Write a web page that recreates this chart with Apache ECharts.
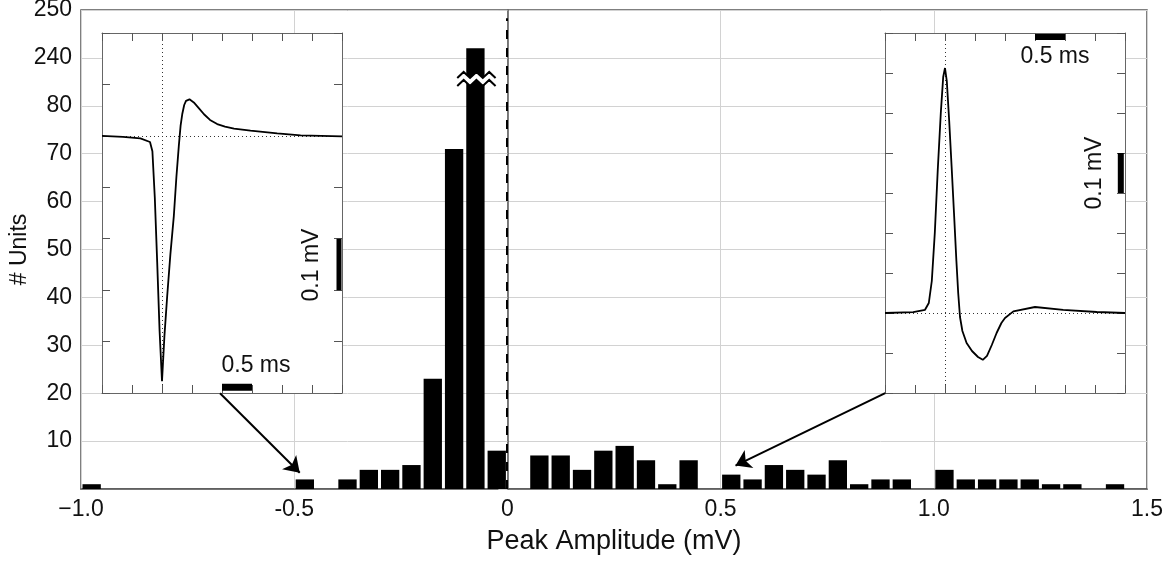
<!DOCTYPE html>
<html>
<head>
<meta charset="utf-8">
<script src="https://cdn.jsdelivr.net/npm/echarts@6/dist/echarts.min.js"></script>
<style>
html,body{margin:0;padding:0;background:#fff;}
#chart{width:1171px;height:564px;}
</style>
</head>
<body>
<div id="chart"></div>
<script>
// ---------------- DATA ----------------
const binCenters = [-0.975,-0.925,-0.875,-0.825,-0.775,-0.725,-0.675,-0.625,-0.575,-0.525,
  -0.475,-0.425,-0.375,-0.325,-0.275,-0.225,-0.175,-0.125,-0.075,-0.025,
  0.025,0.075,0.125,0.175,0.225,0.275,0.325,0.375,0.425,0.475,
  0.525,0.575,0.625,0.675,0.725,0.775,0.825,0.875,0.925,0.975,
  1.025,1.075,1.125,1.175,1.225,1.275,1.325,1.375,1.425,1.475];
const unitCounts = [1,0,0,0,0,0,0,0,0,0,
  2,0,2,4,4,5,23,71,242,8,
  0,7,7,4,8,9,6,1,6,0,
  3,2,5,4,3,6,1,2,2,0,
  4,2,2,2,2,1,1,0,1,0];
const xTickLabels = ['\u22121.0','-0.5','0','0.5','1.0','1.5'];
const yTickLabels = ['','10','20','30','40','50','60','70','80','240','250'];

// Inset waveforms (time in ms, amplitude in mV)
const leftSpikeTime = [0,0.35,0.64,0.80,0.84,0.88,0.92,0.96,1.0,1.04,1.087,1.14,1.197,1.24,1.28,1.31,1.337,1.37,1.40,1.458,1.53,1.62,1.70,1.80,1.92,2.05,2.2,2.475,2.92,3.31,4.0];
const leftSpikeMv   = [0,-0.002,-0.005,-0.012,-0.03,-0.12,-0.246,-0.38,-0.477,-0.39,-0.311,-0.23,-0.156,-0.08,-0.02,0.02,0.042,0.06,0.068,0.071,0.065,0.053,0.042,0.031,0.023,0.018,0.014,0.010,0.005,0.001,-0.001];
const rightSpikeTime = [0,0.47,0.667,0.73,0.78,0.83,0.88,0.93,0.97,1.0,1.03,1.07,1.11,1.15,1.19,1.22,1.25,1.29,1.36,1.45,1.55,1.63,1.70,1.78,1.86,1.94,2.0,2.14,2.5,2.97,3.53,4.0];
const rightSpikeMv   = [0,0.002,0.008,0.025,0.08,0.2,0.36,0.5,0.59,0.6125,0.58,0.48,0.367,0.25,0.13,0.05,-0.01,-0.045,-0.075,-0.095,-0.11,-0.117,-0.107,-0.08,-0.05,-0.025,-0.0125,0.004,0.015,0.008,0.0025,0];

// Axis break: counts above BREAK_LOW are shifted down by BREAK_SHIFT on the drawn axis
const BREAK_LOW = 80, BREAK_SHIFT = 150, BREAK_MARK = 85.6;
const BIN_WIDTH = 0.05;

// ---------------- BUILD ----------------
const FONT = "'Liberation Sans', Arial, Helvetica, sans-serif";
const toDisplay = v => v > BREAK_LOW ? v - BREAK_SHIFT : v;
const barData = [];
binCenters.forEach((c, i) => { if (unitCounts[i] > 0) barData.push([c, toDisplay(unitCounts[i]), unitCounts[i]]); });
const zip = (a, b) => a.map((t, i) => [t, b[i]]);

function renderBar(params, api) {
  const x = api.value(0), disp = api.value(1), raw = api.value(2);
  const p0 = api.coord([x - BIN_WIDTH / 2, 0]);
  const p1 = api.coord([x + BIN_WIDTH / 2, disp]);
  const gap = 3;
  const r = { x: p0[0] + gap / 2, y: p1[1], width: p1[0] - p0[0] - gap, height: p0[1] - p1[1] };
  const children = [{ type: 'rect', shape: r, style: { fill: '#000' } }];
  if (raw > BREAK_LOW) {
    const cy = api.coord([x, BREAK_MARK])[1];
    const xl = r.x - 9, xr = r.x + r.width + 11;
    const n = 6, step = (xr - xl) / n;
    const top = [], bot = [];
    for (let i = 0; i <= n; i++) {
      const px = xl + i * step, dy = (i % 2 ? -3 : 3);
      top.push([px, cy - 4 + dy]); bot.push([px, cy + 4 + dy]);
    }
    children.push({ type: 'polygon', shape: { points: top.concat(bot.slice().reverse()) }, style: { fill: '#fff' } });
    children.push({ type: 'polyline', shape: { points: top }, style: { stroke: '#000', lineWidth: 2, fill: null } });
    children.push({ type: 'polyline', shape: { points: bot }, style: { stroke: '#000', lineWidth: 2, fill: null } });
  }
  return { type: 'group', children };
}

function insetAxes(gridIndex, min, max, interval, dim) {
  const common = {
    gridIndex, type: 'value', min, max, interval, z: 6,
    axisLine: { show: true, onZero: false, lineStyle: { color: '#666', width: 1 } },
    axisTick: { show: true, inside: true, length: 8, lineStyle: { color: '#555', width: 1 } },
    axisLabel: { show: false }, splitLine: { show: false }
  };
  if (dim === 'x') return [Object.assign({ position: 'bottom' }, common), Object.assign({ position: 'top' }, common)];
  return [Object.assign({ position: 'left' }, common), Object.assign({ position: 'right' }, common)];
}

const ax1 = insetAxes(1, 0, 4, 0.5, 'x'), ay1 = insetAxes(1, -0.5, 0.2, 0.1, 'y');
const ax2 = insetAxes(2, 0, 4, 0.5, 'x'), ay2 = insetAxes(2, -0.2, 0.7, 0.1, 'y');

const guideLine = { type: [1, 3], color: '#333', width: 1 };
const txt = { fontFamily: FONT, fontSize: 23, fill: '#111' };

const option = {
  animation: false,
  backgroundColor: '#fff',
  grid: [
    { left: 81, top: 10, right: 24, bottom: 75, containLabel: false, outerBoundsMode: 'none',
      show: true, borderColor: '#555', borderWidth: 1.5, backgroundColor: 'transparent', z: 0 },
    { left: 102, top: 33, width: 240, height: 360, containLabel: false, outerBoundsMode: 'none',
      show: true, backgroundColor: '#fff', borderWidth: 0, z: 5 },
    { left: 885, top: 33, width: 240, height: 360, containLabel: false, outerBoundsMode: 'none',
      show: true, backgroundColor: '#fff', borderWidth: 0, z: 5 }
  ],
  xAxis: [
    {
      gridIndex: 0, type: 'value', min: -1, max: 1.5, interval: 0.5,
      name: 'Peak Amplitude (mV)', nameLocation: 'middle', nameGap: 39,
      nameTextStyle: { fontFamily: FONT, fontSize: 27, color: '#111' },
      axisLine: { show: true, onZero: false, lineStyle: { color: '#555', width: 1.5 } },
      axisTick: { show: false },
      axisLabel: { margin: 9, fontFamily: FONT, fontSize: 23, color: '#111',
        formatter: v => xTickLabels[Math.round((v + 1) / 0.5)] },
      splitLine: { show: true, lineStyle: { color: '#d2d2d2', width: 1 } }
    },
    ax1[0], ax1[1], ax2[0], ax2[1]
  ],
  yAxis: [
    {
      gridIndex: 0, type: 'value', min: 0, max: 100, interval: 10,
      name: '# Units', nameLocation: 'middle', nameGap: 50, nameMoveOverlap: false,
      nameTextStyle: { fontFamily: FONT, fontSize: 23, color: '#111' },
      axisLine: { show: true, lineStyle: { color: '#555', width: 1.5 } },
      axisTick: { show: true, length: 9, lineStyle: { color: '#cfcfcf', width: 1 } },
      axisLabel: { margin: 9, fontFamily: FONT, fontSize: 23, color: '#111',
        formatter: v => yTickLabels[Math.round(v / 10)] },
      splitLine: { show: true, lineStyle: { color: '#d2d2d2', width: 1 } }
    },
    ay1[0], ay1[1], ay2[0], ay2[1]
  ],
  series: [
    {
      type: 'custom', name: 'units', xAxisIndex: 0, yAxisIndex: 0, z: 2,
      renderItem: renderBar, encode: { x: 0, y: 1 }, data: barData
    },
    {
      type: 'lines', coordinateSystem: 'cartesian2d', xAxisIndex: 0, yAxisIndex: 0, z: 3,
      symbol: 'none', lineStyle: { color: '#000', width: 2, type: [9, 9], opacity: 1 },
      data: [{ coords: [[-0.002, 0], [-0.002, 98.3]] }]
    },
    {
      type: 'lines', coordinateSystem: 'cartesian2d', xAxisIndex: 0, yAxisIndex: 0, z: 9,
      symbol: ['none', 'arrow'], symbolSize: [11, 15],
      lineStyle: { color: '#000', width: 2, opacity: 1 }, itemStyle: { color: '#000' },
      data: [
        { coords: [[-0.674, 20], [-0.487, 3.4]] },
        { coords: [[0.886, 20], [0.535, 4.9]] }
      ]
    },
    {
      type: 'line', xAxisIndex: 1, yAxisIndex: 1, z: 7, symbol: 'none',
      lineStyle: { color: '#000', width: 1.8 },
      data: zip(leftSpikeTime, leftSpikeMv),
      markLine: { silent: true, symbol: ['none', 'none'], label: { show: false }, lineStyle: guideLine,
        data: [{ yAxis: 0 }, { xAxis: 1.0 }] }
    },
    {
      type: 'line', xAxisIndex: 1, yAxisIndex: 1, z: 7, symbol: 'none',
      lineStyle: { color: '#000', width: 7, cap: 'butt' },
      data: [[2.0, -0.489], [2.5, -0.489]]
    },
    {
      type: 'line', xAxisIndex: 1, yAxisIndex: 1, z: 7, symbol: 'none',
      lineStyle: { color: '#000', width: 5, cap: 'butt' },
      data: [[3.95, -0.2], [3.95, -0.3]]
    },
    {
      type: 'line', xAxisIndex: 3, yAxisIndex: 3, z: 7, symbol: 'none',
      lineStyle: { color: '#000', width: 1.8 },
      data: zip(rightSpikeTime, rightSpikeMv),
      markLine: { silent: true, symbol: ['none', 'none'], label: { show: false }, lineStyle: guideLine,
        data: [{ yAxis: 0 }, { xAxis: 1.0 }] }
    },
    {
      type: 'line', xAxisIndex: 3, yAxisIndex: 3, z: 7, symbol: 'none',
      lineStyle: { color: '#000', width: 6, cap: 'butt' },
      data: [[2.5, 0.69], [3.0, 0.69]]
    },
    {
      type: 'line', xAxisIndex: 3, yAxisIndex: 3, z: 7, symbol: 'none',
      lineStyle: { color: '#000', width: 6, cap: 'butt' },
      data: [[3.93, 0.3], [3.93, 0.4]]
    }
  ],
  graphic: [
    { type: 'text', x: 256, y: 366, z: 10, style: Object.assign({ text: '0.5 ms', textAlign: 'center', textVerticalAlign: 'middle' }, txt) },
    { type: 'text', x: 312, y: 265, z: 10, rotation: Math.PI / 2, style: Object.assign({ text: '0.1 mV', textAlign: 'center', textVerticalAlign: 'middle' }, txt) },
    { type: 'text', x: 1055, y: 57, z: 10, style: Object.assign({ text: '0.5 ms', textAlign: 'center', textVerticalAlign: 'middle' }, txt) },
    { type: 'text', x: 1095, y: 173, z: 10, rotation: Math.PI / 2, style: Object.assign({ text: '0.1 mV', textAlign: 'center', textVerticalAlign: 'middle' }, txt) }
  ]
};

const chart = echarts.init(document.getElementById('chart'), null, { renderer: 'canvas' });
chart.setOption(option);
</script>
</body>
</html>
